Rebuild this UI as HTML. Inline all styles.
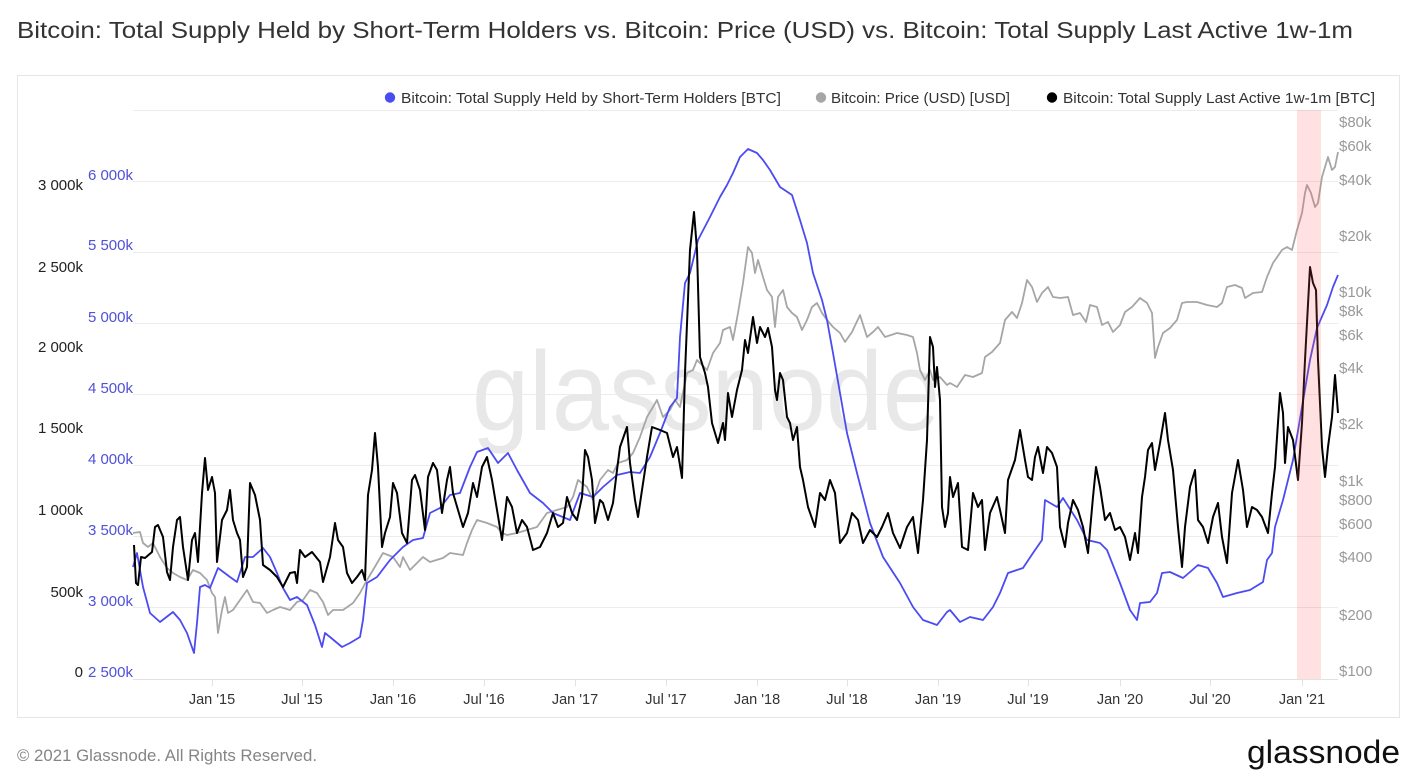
<!DOCTYPE html>
<html>
<head>
<meta charset="utf-8">
<style>
  html, body { margin: 0; padding: 0; background: #fff; }
  svg { display: block; }
  text { font-family: "Liberation Sans", "DejaVu Sans", sans-serif; }
</style>
</head>
<body>
<svg width="1414" height="782" viewBox="0 0 1414 782" xmlns="http://www.w3.org/2000/svg">
  <rect x="0" y="0" width="1414" height="782" fill="#ffffff"/>
  <!-- Title -->
  <text x="17" y="38" font-size="23" fill="#333333" textLength="1336" lengthAdjust="spacingAndGlyphs">Bitcoin: Total Supply Held by Short-Term Holders vs. Bitcoin: Price (USD) vs. Bitcoin: Total Supply Last Active 1w-1m</text>

  <!-- Chart box -->
  <rect x="17.5" y="75.5" width="1382" height="642" fill="#ffffff" stroke="#e6e6e6" stroke-width="1"/>

  <!-- Legend -->
  <circle cx="390" cy="97.5" r="5.2" fill="#4b4bf2"/>
  <text x="401" y="103" font-size="14.5" fill="#333333" textLength="380" lengthAdjust="spacingAndGlyphs">Bitcoin: Total Supply Held by Short-Term Holders [BTC]</text>
  <circle cx="821" cy="97.5" r="5.2" fill="#a6a6a6"/>
  <text x="831" y="103" font-size="14.5" fill="#333333" textLength="179" lengthAdjust="spacingAndGlyphs">Bitcoin: Price (USD) [USD]</text>
  <circle cx="1052" cy="97.5" r="5.2" fill="#000000"/>
  <text x="1063" y="103" font-size="14.5" fill="#333333" textLength="312" lengthAdjust="spacingAndGlyphs">Bitcoin: Total Supply Last Active 1w-1m [BTC]</text>

  <!-- Grid lines -->
  <g stroke="#ececec" stroke-width="1">
    <line x1="133" y1="110.5" x2="1338" y2="110.5"/>
    <line x1="133" y1="181.5" x2="1338" y2="181.5"/>
    <line x1="133" y1="252.5" x2="1338" y2="252.5"/>
    <line x1="133" y1="323.5" x2="1338" y2="323.5"/>
    <line x1="133" y1="394.5" x2="1338" y2="394.5"/>
    <line x1="133" y1="465.5" x2="1338" y2="465.5"/>
    <line x1="133" y1="536.5" x2="1338" y2="536.5"/>
    <line x1="133" y1="607.5" x2="1338" y2="607.5"/>
  </g>
  <line x1="133" y1="679.5" x2="1338" y2="679.5" stroke="#e2e2e2" stroke-width="1"/>
  <!-- X ticks -->
  <g stroke="#e2e2e2" stroke-width="1">
    <line x1="212.5" y1="679" x2="212.5" y2="686"/>
    <line x1="302.5" y1="679" x2="302.5" y2="686"/>
    <line x1="393.5" y1="679" x2="393.5" y2="686"/>
    <line x1="484.5" y1="679" x2="484.5" y2="686"/>
    <line x1="575.5" y1="679" x2="575.5" y2="686"/>
    <line x1="666.5" y1="679" x2="666.5" y2="686"/>
    <line x1="757.5" y1="679" x2="757.5" y2="686"/>
    <line x1="847.5" y1="679" x2="847.5" y2="686"/>
    <line x1="938.5" y1="679" x2="938.5" y2="686"/>
    <line x1="1028.5" y1="679" x2="1028.5" y2="686"/>
    <line x1="1120.5" y1="679" x2="1120.5" y2="686"/>
    <line x1="1210.5" y1="679" x2="1210.5" y2="686"/>
    <line x1="1302.5" y1="679" x2="1302.5" y2="686"/>
  </g>

  <!-- Watermark -->
  <text x="472" y="430" font-size="112" fill="#e8e8e8" textLength="468" lengthAdjust="spacingAndGlyphs">glassnode</text>

  <!-- Left axis (black) labels -->
  <g font-size="15" fill="#222222" text-anchor="end">
    <text x="83" y="190">3 000k</text>
    <text x="83" y="272">2 500k</text>
    <text x="83" y="352">2 000k</text>
    <text x="83" y="433">1 500k</text>
    <text x="83" y="515">1 000k</text>
    <text x="83" y="597">500k</text>
    <text x="83" y="677">0</text>
  </g>
  <!-- Left axis (blue) labels -->
  <g font-size="15" fill="#5050d8" text-anchor="end">
    <text x="133" y="180">6 000k</text>
    <text x="133" y="250">5 500k</text>
    <text x="133" y="322">5 000k</text>
    <text x="133" y="393">4 500k</text>
    <text x="133" y="464">4 000k</text>
    <text x="133" y="535">3 500k</text>
    <text x="133" y="606">3 000k</text>
    <text x="133" y="677">2 500k</text>
  </g>
  <!-- Right axis (price) labels -->
  <g font-size="15" fill="#999999">
    <text x="1339" y="127">$80k</text>
    <text x="1339" y="151">$60k</text>
    <text x="1339" y="185">$40k</text>
    <text x="1339" y="241">$20k</text>
    <text x="1339" y="297">$10k</text>
    <text x="1339" y="316">$8k</text>
    <text x="1339" y="340">$6k</text>
    <text x="1339" y="373">$4k</text>
    <text x="1339" y="429">$2k</text>
    <text x="1339" y="486">$1k</text>
    <text x="1339" y="505">$800</text>
    <text x="1339" y="529">$600</text>
    <text x="1339" y="562">$400</text>
    <text x="1339" y="620">$200</text>
    <text x="1339" y="676">$100</text>
  </g>
  <!-- X axis labels -->
  <g font-size="14.5" fill="#333333" text-anchor="middle">
    <text x="212" y="704">Jan '15</text>
    <text x="302" y="704">Jul '15</text>
    <text x="393" y="704">Jan '16</text>
    <text x="484" y="704">Jul '16</text>
    <text x="575" y="704">Jan '17</text>
    <text x="666" y="704">Jul '17</text>
    <text x="757" y="704">Jan '18</text>
    <text x="847" y="704">Jul '18</text>
    <text x="938" y="704">Jan '19</text>
    <text x="1028" y="704">Jul '19</text>
    <text x="1120" y="704">Jan '20</text>
    <text x="1210" y="704">Jul '20</text>
    <text x="1302" y="704">Jan '21</text>
  </g>

  <!-- Series: price (gray) -->
  <polyline fill="none" stroke="#a6a6a6" stroke-width="1.8" stroke-linejoin="round" points="133,533 140,532 143,543 148,547 153,543 160,557 167,568 173,573 180,577 187,580 193,570 200,573 207,580 212,593 215,597 218,633 222,610 225,597 228,613 233,610 240,600 247,590 253,602 260,603 267,613 273,610 280,607 290,610 297,602 303,600 310,590 317,593 323,602 328,615 333,610 343,610 353,603 360,593 367,580 373,570 383,553 393,557 400,567 403,557 410,570 417,563 423,557 430,562 443,558 450,553 463,555 467,543 472,530 477,520 487,523 497,527 502,533 507,535 517,533 527,530 537,527 547,513 557,510 567,507 573,497 578,480 587,487 593,500 600,480 608,470 613,473 618,463 627,460 633,453 640,437 647,417 653,407 657,400 663,417 670,410 675,400 680,407 687,373 693,370 697,360 707,370 713,353 720,343 723,330 730,327 733,340 738,313 743,283 748,247 752,253 755,273 758,260 763,277 767,290 772,297 775,327 778,297 783,290 787,307 792,313 797,317 802,330 807,320 812,307 817,303 822,313 827,320 833,327 840,333 845,342 852,332 860,315 867,337 873,332 878,327 885,337 897,333 907,335 913,337 917,353 920,370 925,380 930,370 933,380 940,377 947,385 950,383 957,387 965,375 973,377 982,373 985,357 992,352 1000,343 1005,320 1012,312 1017,318 1022,303 1027,280 1032,287 1037,302 1042,293 1048,287 1053,297 1060,298 1068,297 1073,315 1080,313 1086,322 1090,305 1097,307 1102,325 1108,322 1113,332 1120,325 1125,312 1132,307 1140,298 1147,303 1152,313 1155,358 1158,347 1163,333 1170,328 1177,320 1182,303 1187,302 1197,302 1207,305 1217,307 1222,303 1227,287 1235,285 1242,288 1245,298 1253,293 1262,292 1267,277 1273,263 1282,250 1287,247 1292,250 1297,230 1302,213 1305,193 1307,185 1311,193 1315,207 1318,203 1322,177 1328,157 1332,170 1335,167 1338,152"/>

  <!-- Series: STH supply (blue) -->
  <polyline fill="none" stroke="#4b4bf2" stroke-width="1.8" stroke-linejoin="round" points="133,567 137,553 143,587 150,613 160,622 173,612 180,620 187,633 194,653 197,623 200,587 205,585 210,588 218,568 230,577 237,582 245,557 253,557 263,548 270,557 277,573 283,588 290,600 297,597 307,605 315,625 322,647 325,633 330,637 342,647 350,643 360,637 363,620 367,583 377,577 390,560 403,547 413,540 423,538 430,513 440,508 450,495 460,493 470,467 477,452 488,448 498,463 508,453 517,470 530,493 543,503 553,513 570,520 580,493 593,497 603,487 617,475 630,472 640,473 650,457 660,433 670,407 677,398 680,337 685,283 690,273 698,240 710,217 720,197 727,185 733,173 740,157 748,149 757,153 763,160 770,170 780,187 792,195 800,220 807,243 813,273 822,300 827,320 833,353 840,393 847,433 857,473 870,523 883,557 900,583 913,607 923,620 937,625 947,612 950,610 960,622 970,617 983,620 993,607 1000,593 1008,573 1023,568 1033,553 1042,540 1045,500 1057,507 1063,498 1077,520 1087,540 1100,543 1107,550 1120,583 1130,610 1137,620 1140,603 1150,602 1157,593 1162,573 1170,572 1183,578 1190,572 1198,565 1208,568 1217,583 1223,597 1237,593 1250,590 1263,582 1267,560 1272,553 1275,527 1283,500 1293,460 1302,407 1310,360 1317,328 1327,305 1333,287 1338,275"/>

  <!-- Series: 1w-1m supply (black) -->
  <polyline fill="none" stroke="#000000" stroke-width="2" stroke-linejoin="round" points="134,545 136,583 138,585 141,557 145,558 152,552 155,527 158,525 163,537 167,572 170,580 173,547 177,520 180,517 183,547 188,580 192,540 195,533 198,562 200,527 202,493 205,458 208,490 212,477 215,493 217,562 222,520 227,510 230,490 233,520 237,533 240,540 243,577 247,567 250,483 255,495 260,520 263,565 270,570 277,577 283,587 290,573 295,572 297,583 300,550 305,557 312,552 320,562 323,582 330,557 335,523 338,540 343,547 347,573 352,583 357,577 362,570 365,580 368,495 372,470 375,433 378,467 382,547 385,533 390,517 393,483 397,493 402,533 407,543 412,480 415,475 420,490 425,530 428,477 433,463 437,470 442,513 447,480 450,467 453,493 458,510 463,527 468,513 473,483 477,497 482,467 487,457 492,480 497,510 502,540 507,497 512,507 517,533 522,520 527,527 533,550 540,547 547,533 553,513 558,527 563,523 567,497 572,513 577,520 582,497 585,450 588,457 592,480 595,523 600,500 603,503 608,520 613,503 617,470 620,447 627,427 630,463 635,500 638,517 642,490 647,457 652,427 660,430 667,433 673,457 677,447 682,478 685,373 690,250 694,212 697,250 700,357 705,373 708,387 712,423 718,443 723,423 725,440 728,393 732,417 737,390 742,370 745,340 748,353 753,317 757,343 760,327 765,337 768,328 772,347 775,390 777,400 780,373 783,380 787,417 790,423 793,440 797,427 800,467 803,480 808,507 815,527 820,493 825,500 830,480 835,493 840,543 847,533 852,513 858,520 863,543 870,530 877,537 882,527 888,513 893,533 900,548 907,527 913,517 918,553 923,500 927,440 930,337 933,347 935,387 937,367 940,400 942,507 945,527 948,513 950,477 953,497 958,483 962,547 968,550 973,493 978,507 982,500 985,550 990,513 997,497 1000,510 1005,533 1008,480 1015,460 1020,430 1025,460 1028,477 1032,480 1035,457 1038,447 1043,473 1047,447 1052,453 1057,467 1060,527 1065,547 1068,523 1073,500 1078,510 1083,527 1088,553 1093,497 1096,467 1100,487 1105,520 1110,513 1115,530 1120,527 1125,537 1130,560 1135,533 1138,553 1142,497 1145,477 1148,450 1152,443 1155,470 1160,443 1165,413 1168,440 1173,470 1178,527 1182,567 1185,527 1190,487 1195,470 1198,520 1203,527 1208,543 1213,517 1218,503 1222,537 1227,563 1232,493 1238,460 1243,490 1247,527 1252,507 1257,510 1262,517 1268,533 1272,493 1275,467 1280,393 1283,413 1285,463 1288,427 1293,440 1298,480 1302,423 1305,360 1310,267 1313,283 1316,290 1318,360 1322,447 1325,477 1328,447 1332,417 1335,375 1338,413"/>

  <!-- Highlight band -->
  <rect x="1297" y="110" width="24" height="569" fill="rgba(255,90,90,0.18)"/>

  <!-- Footer -->
  <text x="17" y="761" font-size="16.5" fill="#858585" textLength="300" lengthAdjust="spacingAndGlyphs">© 2021 Glassnode. All Rights Reserved.</text>
  <text x="1247" y="763" font-size="32" fill="#111111" textLength="153" lengthAdjust="spacingAndGlyphs">glassnode</text>
</svg>
</body>
</html>
